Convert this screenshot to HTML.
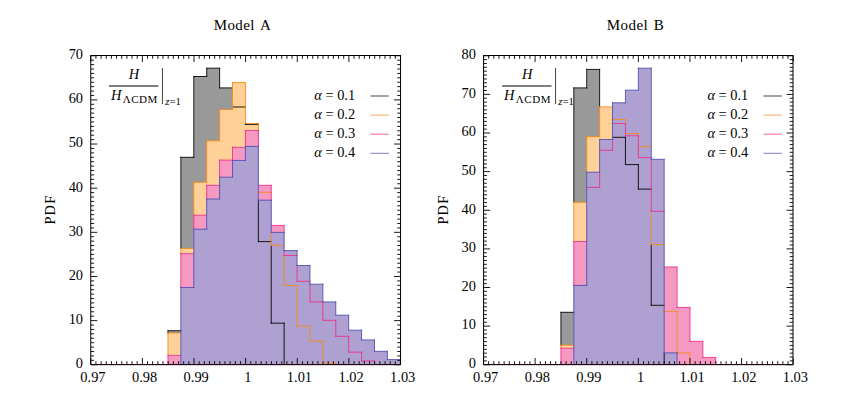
<!DOCTYPE html>
<html><head><meta charset="utf-8"><title>PDF histograms: Model A / Model B</title>
<style>html,body{margin:0;padding:0;background:#fff}svg{display:block}text{font-family:"Liberation Serif",serif;fill:#000}</style></head><body>
<svg width="844" height="398" viewBox="0 0 844 398">
<rect width="844" height="398" fill="#fff"/>
<g id="panelA">
<path d="M167.99 364.5V330.7H180.89V157.3H193.8V76.5H206.71V68.2H219.61V87.9H232.52V107H245.43V124.4H258.33V241.6H271.24V323.2H284.14V364.5Z" fill="#999999"/>
<path d="M180.89 364.5V330.7M193.8 364.5V157.3M206.71 364.5V76.5M219.61 364.5V87.9M232.52 364.5V107M245.43 364.5V124.4M258.33 364.5V241.6M271.24 364.5V323.2" fill="none" stroke="#fff" stroke-opacity="0.035" stroke-width="1"/>
<path d="M167.99 364.5V333H180.89V248.4H193.8V182.2H206.71V140.75H219.61V109.5H232.52V82.6H245.43V123.5H258.33V192.3H271.24V245.3H284.14V285.4H297.05V326.2H309.96V341.1H322.86V363.1H335.77V364.5Z" fill="#FFD199"/>
<path d="M180.89 364.5V333M193.8 364.5V248.4M206.71 364.5V182.2M219.61 364.5V140.75M232.52 364.5V109.5M245.43 364.5V123.5M258.33 364.5V192.3M271.24 364.5V245.3M284.14 364.5V285.4M297.05 364.5V326.2M309.96 364.5V341.1" fill="none" stroke="#fff" stroke-opacity="0.035" stroke-width="1"/>
<path d="M167.99 364.5V355.4H180.89V253.7H193.8V215.2H206.71V185.3H219.61V160.1H232.52V147.3H245.43V130.5H258.33V185.3H271.24V225.4H284.14V255.5H297.05V281.3H309.96V301.9H322.86V320.3H335.77V336.3H348.68V352.2H361.58V361H374.49V364.5Z" fill="#F599C3"/>
<path d="M180.89 364.5V355.4M193.8 364.5V253.7M206.71 364.5V215.2M219.61 364.5V185.3M232.52 364.5V160.1M245.43 364.5V147.3M258.33 364.5V185.3M271.24 364.5V225.4M284.14 364.5V255.5M297.05 364.5V281.3M309.96 364.5V301.9M322.86 364.5V320.3M335.77 364.5V336.3M348.68 364.5V352.2M361.58 364.5V361" fill="none" stroke="#fff" stroke-opacity="0.035" stroke-width="1"/>
<path d="M167.99 364.5V364.5H180.89V287.5H193.8V229.2H206.71V199H219.61V177.2H232.52V160.45H245.43V146.4H258.33V200.2H271.24V232.4H284.14V250.6H297.05V265.5H309.96V284.2H322.86V301.9H335.77V315.2H348.68V330.2H361.58V339.9H374.49V351.3H387.39V359.6H400.3V364.5Z" fill="#AEA1D1"/>
<path d="M193.8 364.5V287.5M206.71 364.5V229.2M219.61 364.5V199M232.52 364.5V177.2M245.43 364.5V160.45M258.33 364.5V200.2M271.24 364.5V232.4M284.14 364.5V250.6M297.05 364.5V265.5M309.96 364.5V284.2M322.86 364.5V301.9M335.77 364.5V315.2M348.68 364.5V330.2M361.58 364.5V339.9M374.49 364.5V351.3M387.39 364.5V359.6" fill="none" stroke="#fff" stroke-opacity="0.035" stroke-width="1"/>
<path d="M167.99 330.7V333M167.99 330.7H180.89M180.89 157.3V248.4M180.89 157.3H193.8M193.8 76.5V157.3M193.8 76.5H206.71M206.71 68.2V76.5M206.71 68.2H219.61M219.61 68.2V87.9M219.61 87.9H232.52M232.52 107H245.43M245.43 123.5V124.4M245.43 124.4H258.33M258.33 200.2V241.6M258.33 241.6H271.24M271.24 245.3V323.2M271.24 323.2H284.14M284.14 323.2V364.5" fill="none" stroke="#000000" stroke-width="0.88" stroke-linecap="square"/>
<path d="M167.99 333V355.4M167.99 333H180.89M180.89 248.4V253.7M180.89 248.4H193.8M193.8 182.2V215.2M193.8 182.2H206.71M206.71 140.75V182.2M206.71 140.75H219.61M219.61 109.5V140.75M219.61 109.5H232.52M232.52 82.6V109.5M232.52 82.6H245.43M245.43 82.6V123.5M245.43 123.5H258.33M258.33 123.5V130.5M258.33 192.3H271.24M271.24 232.4V245.3M271.24 245.3H284.14M284.14 255.5V285.4M284.14 285.4H297.05M297.05 285.4V326.2M297.05 326.2H309.96M309.96 326.2V341.1M309.96 341.1H322.86M322.86 341.1V363.1M322.86 363.1H335.77M335.77 363.1V364.5" fill="none" stroke="#F58A14" stroke-width="0.88" stroke-linecap="square"/>
<path d="M167.99 355.4V364.5M167.99 355.4H180.89M180.89 253.7V287.5M180.89 253.7H193.8M193.8 215.2V229.2M193.8 215.2H206.71M206.71 185.3V199M206.71 185.3H219.61M219.61 160.1V177.2M219.61 160.1H232.52M232.52 147.3V160.1M232.52 147.3H245.43M245.43 130.5V146.4M245.43 130.5H258.33M258.33 130.5V146.4M258.33 185.3H271.24M271.24 185.3V200.2M271.24 225.4H284.14M284.14 225.4V232.4M284.14 250.6V255.5M284.14 255.5H297.05M297.05 265.5V281.3M297.05 281.3H309.96M309.96 284.2V301.9M309.96 301.9H322.86M322.86 301.9V320.3M322.86 320.3H335.77M335.77 320.3V336.3M335.77 336.3H348.68M348.68 336.3V352.2M348.68 352.2H361.58M361.58 352.2V361M361.58 361H374.49M374.49 361V364.5" fill="none" stroke="#EC3088" stroke-width="0.88" stroke-linecap="square"/>
<path d="M180.89 287.5V364.5M180.89 287.5H193.8M193.8 229.2V287.5M193.8 229.2H206.71M206.71 199V229.2M206.71 199H219.61M219.61 177.2V199M219.61 177.2H232.52M232.52 160.45V177.2M232.52 160.45H245.43M245.43 146.4V160.45M245.43 146.4H258.33M258.33 146.4V200.2M258.33 200.2H271.24M271.24 200.2V232.4M271.24 232.4H284.14M284.14 232.4V250.6M284.14 250.6H297.05M297.05 250.6V265.5M297.05 265.5H309.96M309.96 265.5V284.2M309.96 284.2H322.86M322.86 284.2V301.9M322.86 301.9H335.77M335.77 301.9V315.2M335.77 315.2H348.68M348.68 315.2V330.2M348.68 330.2H361.58M361.58 330.2V339.9M361.58 339.9H374.49M374.49 339.9V351.3M374.49 351.3H387.39M387.39 351.3V359.6M387.39 359.6H400.3M400.3 359.6V364.5" fill="none" stroke="#4E4EB0" stroke-width="0.88" stroke-linecap="square"/>
<path d="M90.75 364.5v-6.5M90.75 55.5v6.5M95.91 364.5v-3.3M95.91 55.5v3.3M101.08 364.5v-3.3M101.08 55.5v3.3M106.24 364.5v-3.3M106.24 55.5v3.3M111.4 364.5v-3.3M111.4 55.5v3.3M116.56 364.5v-3.3M116.56 55.5v3.3M121.73 364.5v-3.3M121.73 55.5v3.3M126.89 364.5v-3.3M126.89 55.5v3.3M132.05 364.5v-3.3M132.05 55.5v3.3M137.21 364.5v-3.3M137.21 55.5v3.3M142.38 364.5v-6.5M142.38 55.5v6.5M147.54 364.5v-3.3M147.54 55.5v3.3M152.7 364.5v-3.3M152.7 55.5v3.3M157.86 364.5v-3.3M157.86 55.5v3.3M163.03 364.5v-3.3M163.03 55.5v3.3M168.19 364.5v-3.3M168.19 55.5v3.3M173.35 364.5v-3.3M173.35 55.5v3.3M178.51 364.5v-3.3M178.51 55.5v3.3M183.68 364.5v-3.3M183.68 55.5v3.3M188.84 364.5v-3.3M188.84 55.5v3.3M194 364.5v-6.5M194 55.5v6.5M199.16 364.5v-3.3M199.16 55.5v3.3M204.33 364.5v-3.3M204.33 55.5v3.3M209.49 364.5v-3.3M209.49 55.5v3.3M214.65 364.5v-3.3M214.65 55.5v3.3M219.81 364.5v-3.3M219.81 55.5v3.3M224.98 364.5v-3.3M224.98 55.5v3.3M230.14 364.5v-3.3M230.14 55.5v3.3M235.3 364.5v-3.3M235.3 55.5v3.3M240.46 364.5v-3.3M240.46 55.5v3.3M245.63 364.5v-6.5M245.63 55.5v6.5M250.79 364.5v-3.3M250.79 55.5v3.3M255.95 364.5v-3.3M255.95 55.5v3.3M261.11 364.5v-3.3M261.11 55.5v3.3M266.28 364.5v-3.3M266.28 55.5v3.3M271.44 364.5v-3.3M271.44 55.5v3.3M276.6 364.5v-3.3M276.6 55.5v3.3M281.76 364.5v-3.3M281.76 55.5v3.3M286.93 364.5v-3.3M286.93 55.5v3.3M292.09 364.5v-3.3M292.09 55.5v3.3M297.25 364.5v-6.5M297.25 55.5v6.5M302.41 364.5v-3.3M302.41 55.5v3.3M307.58 364.5v-3.3M307.58 55.5v3.3M312.74 364.5v-3.3M312.74 55.5v3.3M317.9 364.5v-3.3M317.9 55.5v3.3M323.06 364.5v-3.3M323.06 55.5v3.3M328.23 364.5v-3.3M328.23 55.5v3.3M333.39 364.5v-3.3M333.39 55.5v3.3M338.55 364.5v-3.3M338.55 55.5v3.3M343.71 364.5v-3.3M343.71 55.5v3.3M348.88 364.5v-6.5M348.88 55.5v6.5M354.04 364.5v-3.3M354.04 55.5v3.3M359.2 364.5v-3.3M359.2 55.5v3.3M364.36 364.5v-3.3M364.36 55.5v3.3M369.53 364.5v-3.3M369.53 55.5v3.3M374.69 364.5v-3.3M374.69 55.5v3.3M379.85 364.5v-3.3M379.85 55.5v3.3M385.01 364.5v-3.3M385.01 55.5v3.3M390.18 364.5v-3.3M390.18 55.5v3.3M395.34 364.5v-3.3M395.34 55.5v3.3M400.5 364.5v-6.5M400.5 55.5v6.5M90.75 364.75h6.5M400.55 364.75h-6.5M90.75 360.34h3.3M400.55 360.34h-3.3M90.75 355.92h3.3M400.55 355.92h-3.3M90.75 351.51h3.3M400.55 351.51h-3.3M90.75 347.09h3.3M400.55 347.09h-3.3M90.75 342.68h3.3M400.55 342.68h-3.3M90.75 338.26h3.3M400.55 338.26h-3.3M90.75 333.85h3.3M400.55 333.85h-3.3M90.75 329.44h3.3M400.55 329.44h-3.3M90.75 325.02h3.3M400.55 325.02h-3.3M90.75 320.61h6.5M400.55 320.61h-6.5M90.75 316.19h3.3M400.55 316.19h-3.3M90.75 311.78h3.3M400.55 311.78h-3.3M90.75 307.36h3.3M400.55 307.36h-3.3M90.75 302.95h3.3M400.55 302.95h-3.3M90.75 298.54h3.3M400.55 298.54h-3.3M90.75 294.12h3.3M400.55 294.12h-3.3M90.75 289.71h3.3M400.55 289.71h-3.3M90.75 285.29h3.3M400.55 285.29h-3.3M90.75 280.88h3.3M400.55 280.88h-3.3M90.75 276.46h6.5M400.55 276.46h-6.5M90.75 272.05h3.3M400.55 272.05h-3.3M90.75 267.64h3.3M400.55 267.64h-3.3M90.75 263.22h3.3M400.55 263.22h-3.3M90.75 258.81h3.3M400.55 258.81h-3.3M90.75 254.39h3.3M400.55 254.39h-3.3M90.75 249.98h3.3M400.55 249.98h-3.3M90.75 245.56h3.3M400.55 245.56h-3.3M90.75 241.15h3.3M400.55 241.15h-3.3M90.75 236.74h3.3M400.55 236.74h-3.3M90.75 232.32h6.5M400.55 232.32h-6.5M90.75 227.91h3.3M400.55 227.91h-3.3M90.75 223.49h3.3M400.55 223.49h-3.3M90.75 219.08h3.3M400.55 219.08h-3.3M90.75 214.66h3.3M400.55 214.66h-3.3M90.75 210.25h3.3M400.55 210.25h-3.3M90.75 205.84h3.3M400.55 205.84h-3.3M90.75 201.42h3.3M400.55 201.42h-3.3M90.75 197.01h3.3M400.55 197.01h-3.3M90.75 192.59h3.3M400.55 192.59h-3.3M90.75 188.18h6.5M400.55 188.18h-6.5M90.75 183.76h3.3M400.55 183.76h-3.3M90.75 179.35h3.3M400.55 179.35h-3.3M90.75 174.94h3.3M400.55 174.94h-3.3M90.75 170.52h3.3M400.55 170.52h-3.3M90.75 166.11h3.3M400.55 166.11h-3.3M90.75 161.69h3.3M400.55 161.69h-3.3M90.75 157.28h3.3M400.55 157.28h-3.3M90.75 152.86h3.3M400.55 152.86h-3.3M90.75 148.45h3.3M400.55 148.45h-3.3M90.75 144.04h6.5M400.55 144.04h-6.5M90.75 139.62h3.3M400.55 139.62h-3.3M90.75 135.21h3.3M400.55 135.21h-3.3M90.75 130.79h3.3M400.55 130.79h-3.3M90.75 126.38h3.3M400.55 126.38h-3.3M90.75 121.96h3.3M400.55 121.96h-3.3M90.75 117.55h3.3M400.55 117.55h-3.3M90.75 113.14h3.3M400.55 113.14h-3.3M90.75 108.72h3.3M400.55 108.72h-3.3M90.75 104.31h3.3M400.55 104.31h-3.3M90.75 99.89h6.5M400.55 99.89h-6.5M90.75 95.48h3.3M400.55 95.48h-3.3M90.75 91.06h3.3M400.55 91.06h-3.3M90.75 86.65h3.3M400.55 86.65h-3.3M90.75 82.24h3.3M400.55 82.24h-3.3M90.75 77.82h3.3M400.55 77.82h-3.3M90.75 73.41h3.3M400.55 73.41h-3.3M90.75 68.99h3.3M400.55 68.99h-3.3M90.75 64.58h3.3M400.55 64.58h-3.3M90.75 60.16h3.3M400.55 60.16h-3.3M90.75 55.75h6.5M400.55 55.75h-6.5" fill="none" stroke="#000" stroke-width="0.9"/>
<rect x="90.75" y="55.5" width="309.8" height="309" fill="none" stroke="#000" stroke-width="1"/>
<path d="M90.75 365.05H400.55" stroke="#7a3a60" stroke-opacity="0.45" stroke-width="1"/>
<g fill="#000">
<path d="M109 86H158.4" stroke="#000" stroke-width="1.1"/>
<path d="M162.45 68V104.1" stroke="#222" stroke-width="0.85"/>
<path d="M370.4 96H388.8" stroke="#000000" stroke-width="1.05" stroke-opacity="0.7"/>
<path d="M370.4 115.1H388.8" stroke="#F58A14" stroke-width="1.05" stroke-opacity="0.7"/>
<path d="M370.4 134.2H388.8" stroke="#EC3088" stroke-width="1.05" stroke-opacity="0.7"/>
<path d="M370.4 153.3H388.8" stroke="#4E4EB0" stroke-width="1.05" stroke-opacity="0.7"/>
</g>
</g>
<g id="panelB">
<path d="M560.93 364.5V312.3H573.83V87.9H586.73V69.4H599.64V106.9H612.54V137.3H625.45V164.6H638.35V189.1H651.25V305.3H664.16V364.5Z" fill="#999999"/>
<path d="M573.83 364.5V312.3M586.73 364.5V87.9M599.64 364.5V106.9M612.54 364.5V137.3M625.45 364.5V164.6M638.35 364.5V189.1M651.25 364.5V305.3" fill="none" stroke="#fff" stroke-opacity="0.035" stroke-width="1"/>
<path d="M560.93 364.5V345.2H573.83V202.3H586.73V136.7H599.64V106.9H612.54V119.4H625.45V133.5H638.35V146.7H651.25V244.5H664.16V311.3H677.06V352.9H689.97V364.5Z" fill="#FFD199"/>
<path d="M573.83 364.5V345.2M586.73 364.5V202.3M599.64 364.5V136.7M612.54 364.5V119.4M625.45 364.5V133.5M638.35 364.5V146.7M651.25 364.5V244.5M664.16 364.5V311.3M677.06 364.5V352.9" fill="none" stroke="#fff" stroke-opacity="0.035" stroke-width="1"/>
<path d="M560.93 364.5V348.2H573.83V241.6H586.73V187.4H599.64V150.3H612.54V123.5H625.45V135.75H638.35V157.6H651.25V211.3H664.16V267H677.06V307.4H689.97V341.3H702.87V357.4H715.78V364.5Z" fill="#F599C3"/>
<path d="M573.83 364.5V348.2M586.73 364.5V241.6M599.64 364.5V187.4M612.54 364.5V150.3M625.45 364.5V135.75M638.35 364.5V157.6M651.25 364.5V211.3M664.16 364.5V267M677.06 364.5V307.4M689.97 364.5V341.3M702.87 364.5V357.4" fill="none" stroke="#fff" stroke-opacity="0.035" stroke-width="1"/>
<path d="M560.93 364.5V364.5H573.83V285.45H586.73V172.2H599.64V139.5H612.54V102.8H625.45V90.2H638.35V68.2H651.25V159.3H664.16V352.9H677.06V364.5Z" fill="#AEA1D1"/>
<path d="M586.73 364.5V285.45M599.64 364.5V172.2M612.54 364.5V139.5M625.45 364.5V102.8M638.35 364.5V90.2M651.25 364.5V159.3M664.16 364.5V352.9" fill="none" stroke="#fff" stroke-opacity="0.035" stroke-width="1"/>
<path d="M560.93 312.3V345.2M560.93 312.3H573.83M573.83 87.9V202.3M573.83 87.9H586.73M586.73 69.4V87.9M586.73 69.4H599.64M599.64 69.4V106.9M612.54 137.3H625.45M625.45 137.3V164.6M625.45 164.6H638.35M638.35 164.6V189.1M638.35 189.1H651.25M651.25 244.5V305.3M651.25 305.3H664.16M664.16 352.9V364.5" fill="none" stroke="#000000" stroke-width="0.88" stroke-linecap="square"/>
<path d="M560.93 345.2V348.2M560.93 345.2H573.83M573.83 202.3V241.6M573.83 202.3H586.73M586.73 136.7V172.2M586.73 136.7H599.64M599.64 106.9V136.7M599.64 106.9H612.54M612.54 119.4H625.45M625.45 119.4V123.5M625.45 133.5H638.35M638.35 133.5V135.75M638.35 146.7H651.25M651.25 211.3V244.5M651.25 244.5H664.16M664.16 311.3H677.06M677.06 311.3V352.9M677.06 352.9H689.97M689.97 352.9V364.5" fill="none" stroke="#F58A14" stroke-width="0.88" stroke-linecap="square"/>
<path d="M560.93 348.2V364.5M560.93 348.2H573.83M573.83 241.6V285.45M573.83 241.6H586.73M586.73 187.4H599.64M599.64 172.2V187.4M599.64 150.3H612.54M612.54 139.5V150.3M612.54 123.5H625.45M625.45 123.5V135.75M625.45 135.75H638.35M638.35 135.75V157.6M638.35 157.6H651.25M651.25 159.3V211.3M651.25 211.3H664.16M664.16 267H677.06M677.06 267V307.4M677.06 307.4H689.97M689.97 307.4V341.3M689.97 341.3H702.87M702.87 341.3V357.4M702.87 357.4H715.78M715.78 357.4V364.5" fill="none" stroke="#EC3088" stroke-width="0.88" stroke-linecap="square"/>
<path d="M573.83 285.45V364.5M573.83 285.45H586.73M586.73 172.2V285.45M586.73 172.2H599.64M599.64 139.5V172.2M599.64 139.5H612.54M612.54 102.8V139.5M612.54 102.8H625.45M625.45 90.2V102.8M625.45 90.2H638.35M638.35 68.2V90.2M638.35 68.2H651.25M651.25 68.2V159.3M651.25 159.3H664.16M664.16 159.3V352.9M664.16 352.9H677.06M677.06 352.9V364.5" fill="none" stroke="#4E4EB0" stroke-width="0.88" stroke-linecap="square"/>
<path d="M483.5 364.5v-6.5M483.5 55.5v6.5M488.66 364.5v-3.3M488.66 55.5v3.3M493.82 364.5v-3.3M493.82 55.5v3.3M498.99 364.5v-3.3M498.99 55.5v3.3M504.15 364.5v-3.3M504.15 55.5v3.3M509.31 364.5v-3.3M509.31 55.5v3.3M514.47 364.5v-3.3M514.47 55.5v3.3M519.63 364.5v-3.3M519.63 55.5v3.3M524.79 364.5v-3.3M524.79 55.5v3.3M529.96 364.5v-3.3M529.96 55.5v3.3M535.12 364.5v-6.5M535.12 55.5v6.5M540.28 364.5v-3.3M540.28 55.5v3.3M545.44 364.5v-3.3M545.44 55.5v3.3M550.6 364.5v-3.3M550.6 55.5v3.3M555.76 364.5v-3.3M555.76 55.5v3.3M560.93 364.5v-3.3M560.93 55.5v3.3M566.09 364.5v-3.3M566.09 55.5v3.3M571.25 364.5v-3.3M571.25 55.5v3.3M576.41 364.5v-3.3M576.41 55.5v3.3M581.57 364.5v-3.3M581.57 55.5v3.3M586.73 364.5v-6.5M586.73 55.5v6.5M591.9 364.5v-3.3M591.9 55.5v3.3M597.06 364.5v-3.3M597.06 55.5v3.3M602.22 364.5v-3.3M602.22 55.5v3.3M607.38 364.5v-3.3M607.38 55.5v3.3M612.54 364.5v-3.3M612.54 55.5v3.3M617.7 364.5v-3.3M617.7 55.5v3.3M622.87 364.5v-3.3M622.87 55.5v3.3M628.03 364.5v-3.3M628.03 55.5v3.3M633.19 364.5v-3.3M633.19 55.5v3.3M638.35 364.5v-6.5M638.35 55.5v6.5M643.51 364.5v-3.3M643.51 55.5v3.3M648.67 364.5v-3.3M648.67 55.5v3.3M653.83 364.5v-3.3M653.83 55.5v3.3M659 364.5v-3.3M659 55.5v3.3M664.16 364.5v-3.3M664.16 55.5v3.3M669.32 364.5v-3.3M669.32 55.5v3.3M674.48 364.5v-3.3M674.48 55.5v3.3M679.64 364.5v-3.3M679.64 55.5v3.3M684.8 364.5v-3.3M684.8 55.5v3.3M689.97 364.5v-6.5M689.97 55.5v6.5M695.13 364.5v-3.3M695.13 55.5v3.3M700.29 364.5v-3.3M700.29 55.5v3.3M705.45 364.5v-3.3M705.45 55.5v3.3M710.61 364.5v-3.3M710.61 55.5v3.3M715.77 364.5v-3.3M715.77 55.5v3.3M720.94 364.5v-3.3M720.94 55.5v3.3M726.1 364.5v-3.3M726.1 55.5v3.3M731.26 364.5v-3.3M731.26 55.5v3.3M736.42 364.5v-3.3M736.42 55.5v3.3M741.58 364.5v-6.5M741.58 55.5v6.5M746.74 364.5v-3.3M746.74 55.5v3.3M751.91 364.5v-3.3M751.91 55.5v3.3M757.07 364.5v-3.3M757.07 55.5v3.3M762.23 364.5v-3.3M762.23 55.5v3.3M767.39 364.5v-3.3M767.39 55.5v3.3M772.55 364.5v-3.3M772.55 55.5v3.3M777.71 364.5v-3.3M777.71 55.5v3.3M782.88 364.5v-3.3M782.88 55.5v3.3M788.04 364.5v-3.3M788.04 55.5v3.3M793.2 364.5v-6.5M793.2 55.5v6.5M483.6 364.75h6.5M793 364.75h-6.5M483.6 360.89h3.3M793 360.89h-3.3M483.6 357.02h3.3M793 357.02h-3.3M483.6 353.16h3.3M793 353.16h-3.3M483.6 349.3h3.3M793 349.3h-3.3M483.6 345.44h3.3M793 345.44h-3.3M483.6 341.57h3.3M793 341.57h-3.3M483.6 337.71h3.3M793 337.71h-3.3M483.6 333.85h3.3M793 333.85h-3.3M483.6 329.99h3.3M793 329.99h-3.3M483.6 326.12h6.5M793 326.12h-6.5M483.6 322.26h3.3M793 322.26h-3.3M483.6 318.4h3.3M793 318.4h-3.3M483.6 314.54h3.3M793 314.54h-3.3M483.6 310.68h3.3M793 310.68h-3.3M483.6 306.81h3.3M793 306.81h-3.3M483.6 302.95h3.3M793 302.95h-3.3M483.6 299.09h3.3M793 299.09h-3.3M483.6 295.23h3.3M793 295.23h-3.3M483.6 291.36h3.3M793 291.36h-3.3M483.6 287.5h6.5M793 287.5h-6.5M483.6 283.64h3.3M793 283.64h-3.3M483.6 279.77h3.3M793 279.77h-3.3M483.6 275.91h3.3M793 275.91h-3.3M483.6 272.05h3.3M793 272.05h-3.3M483.6 268.19h3.3M793 268.19h-3.3M483.6 264.32h3.3M793 264.32h-3.3M483.6 260.46h3.3M793 260.46h-3.3M483.6 256.6h3.3M793 256.6h-3.3M483.6 252.74h3.3M793 252.74h-3.3M483.6 248.88h6.5M793 248.88h-6.5M483.6 245.01h3.3M793 245.01h-3.3M483.6 241.15h3.3M793 241.15h-3.3M483.6 237.29h3.3M793 237.29h-3.3M483.6 233.43h3.3M793 233.43h-3.3M483.6 229.56h3.3M793 229.56h-3.3M483.6 225.7h3.3M793 225.7h-3.3M483.6 221.84h3.3M793 221.84h-3.3M483.6 217.97h3.3M793 217.97h-3.3M483.6 214.11h3.3M793 214.11h-3.3M483.6 210.25h6.5M793 210.25h-6.5M483.6 206.39h3.3M793 206.39h-3.3M483.6 202.53h3.3M793 202.53h-3.3M483.6 198.66h3.3M793 198.66h-3.3M483.6 194.8h3.3M793 194.8h-3.3M483.6 190.94h3.3M793 190.94h-3.3M483.6 187.08h3.3M793 187.08h-3.3M483.6 183.21h3.3M793 183.21h-3.3M483.6 179.35h3.3M793 179.35h-3.3M483.6 175.49h3.3M793 175.49h-3.3M483.6 171.62h6.5M793 171.62h-6.5M483.6 167.76h3.3M793 167.76h-3.3M483.6 163.9h3.3M793 163.9h-3.3M483.6 160.04h3.3M793 160.04h-3.3M483.6 156.18h3.3M793 156.18h-3.3M483.6 152.31h3.3M793 152.31h-3.3M483.6 148.45h3.3M793 148.45h-3.3M483.6 144.59h3.3M793 144.59h-3.3M483.6 140.73h3.3M793 140.73h-3.3M483.6 136.86h3.3M793 136.86h-3.3M483.6 133h6.5M793 133h-6.5M483.6 129.14h3.3M793 129.14h-3.3M483.6 125.28h3.3M793 125.28h-3.3M483.6 121.41h3.3M793 121.41h-3.3M483.6 117.55h3.3M793 117.55h-3.3M483.6 113.69h3.3M793 113.69h-3.3M483.6 109.83h3.3M793 109.83h-3.3M483.6 105.96h3.3M793 105.96h-3.3M483.6 102.1h3.3M793 102.1h-3.3M483.6 98.24h3.3M793 98.24h-3.3M483.6 94.38h6.5M793 94.38h-6.5M483.6 90.51h3.3M793 90.51h-3.3M483.6 86.65h3.3M793 86.65h-3.3M483.6 82.79h3.3M793 82.79h-3.3M483.6 78.93h3.3M793 78.93h-3.3M483.6 75.06h3.3M793 75.06h-3.3M483.6 71.2h3.3M793 71.2h-3.3M483.6 67.34h3.3M793 67.34h-3.3M483.6 63.48h3.3M793 63.48h-3.3M483.6 59.61h3.3M793 59.61h-3.3M483.6 55.75h6.5M793 55.75h-6.5" fill="none" stroke="#000" stroke-width="0.9"/>
<rect x="483.6" y="55.5" width="309.4" height="309" fill="none" stroke="#000" stroke-width="1"/>
<path d="M483.6 365.05H793" stroke="#7a3a60" stroke-opacity="0.45" stroke-width="1"/>
<g fill="#000">
<path d="M502.1 86H551.5" stroke="#000" stroke-width="1.1"/>
<path d="M555.55 68V104.1" stroke="#222" stroke-width="0.85"/>
<path d="M763.5 96H781.9" stroke="#000000" stroke-width="1.05" stroke-opacity="0.7"/>
<path d="M763.5 115.1H781.9" stroke="#F58A14" stroke-width="1.05" stroke-opacity="0.7"/>
<path d="M763.5 134.2H781.9" stroke="#EC3088" stroke-width="1.05" stroke-opacity="0.7"/>
<path d="M763.5 153.3H781.9" stroke="#4E4EB0" stroke-width="1.05" stroke-opacity="0.7"/>
</g>
</g>
<g>
<text x="83.05" y="368.1" font-size="14.4" text-anchor="end">0</text>
<text x="83.05" y="323.96" font-size="14.4" text-anchor="end">10</text>
<text x="83.05" y="279.81" font-size="14.4" text-anchor="end">20</text>
<text x="83.05" y="235.67" font-size="14.4" text-anchor="end">30</text>
<text x="83.05" y="191.53" font-size="14.4" text-anchor="end">40</text>
<text x="83.05" y="147.39" font-size="14.4" text-anchor="end">50</text>
<text x="83.05" y="103.24" font-size="14.4" text-anchor="end">60</text>
<text x="83.05" y="59.1" font-size="14.4" text-anchor="end">70</text>
<text x="92.95" y="381.7" font-size="14.4" text-anchor="middle">0.97</text>
<text x="144.58" y="381.7" font-size="14.4" text-anchor="middle">0.98</text>
<text x="196.2" y="381.7" font-size="14.4" text-anchor="middle">0.99</text>
<text x="247.83" y="381.7" font-size="14.4" text-anchor="middle">1</text>
<text x="299.45" y="381.7" font-size="14.4" text-anchor="middle">1.01</text>
<text x="351.08" y="381.7" font-size="14.4" text-anchor="middle">1.02</text>
<text x="402.7" y="381.7" font-size="14.4" text-anchor="middle">1.03</text>
<text x="213.7" y="29.6" font-size="15" letter-spacing="0.42" word-spacing="1.6">Model A</text>
<text transform="translate(54.6 224.6) rotate(-90)" font-size="14.4" letter-spacing="1.2">PDF</text>
<text x="128.8" y="79.4" font-size="14.4" font-style="italic">H</text>
<text x="110.9" y="99.5" font-size="14.4" font-style="italic">H</text>
<text x="122.7" y="102.6" font-size="11" letter-spacing="0.55">ΛCDM</text>
<text x="165.2" y="104.6" font-size="10.8"><tspan font-style="italic">z</tspan>=1</text>
<text x="314.3" y="99.8" font-size="14.4"><tspan font-style="italic">α</tspan> = 0.1</text>
<text x="314.3" y="118.93" font-size="14.4"><tspan font-style="italic">α</tspan> = 0.2</text>
<text x="314.3" y="138.06" font-size="14.4"><tspan font-style="italic">α</tspan> = 0.3</text>
<text x="314.3" y="157.19" font-size="14.4"><tspan font-style="italic">α</tspan> = 0.4</text>
<text x="475.9" y="368.1" font-size="14.4" text-anchor="end">0</text>
<text x="475.9" y="329.48" font-size="14.4" text-anchor="end">10</text>
<text x="475.9" y="290.85" font-size="14.4" text-anchor="end">20</text>
<text x="475.9" y="252.22" font-size="14.4" text-anchor="end">30</text>
<text x="475.9" y="213.6" font-size="14.4" text-anchor="end">40</text>
<text x="475.9" y="174.97" font-size="14.4" text-anchor="end">50</text>
<text x="475.9" y="136.35" font-size="14.4" text-anchor="end">60</text>
<text x="475.9" y="97.72" font-size="14.4" text-anchor="end">70</text>
<text x="475.9" y="59.1" font-size="14.4" text-anchor="end">80</text>
<text x="485.7" y="381.7" font-size="14.4" text-anchor="middle">0.97</text>
<text x="537.32" y="381.7" font-size="14.4" text-anchor="middle">0.98</text>
<text x="588.93" y="381.7" font-size="14.4" text-anchor="middle">0.99</text>
<text x="640.55" y="381.7" font-size="14.4" text-anchor="middle">1</text>
<text x="692.17" y="381.7" font-size="14.4" text-anchor="middle">1.01</text>
<text x="743.78" y="381.7" font-size="14.4" text-anchor="middle">1.02</text>
<text x="795.4" y="381.7" font-size="14.4" text-anchor="middle">1.03</text>
<text x="606.8" y="29.6" font-size="15" letter-spacing="0.42" word-spacing="1.6">Model B</text>
<text transform="translate(447.7 224.6) rotate(-90)" font-size="14.4" letter-spacing="1.2">PDF</text>
<text x="521.9" y="79.4" font-size="14.4" font-style="italic">H</text>
<text x="504" y="99.5" font-size="14.4" font-style="italic">H</text>
<text x="515.8" y="102.6" font-size="11" letter-spacing="0.55">ΛCDM</text>
<text x="558.3" y="104.6" font-size="10.8"><tspan font-style="italic">z</tspan>=1</text>
<text x="707.4" y="99.8" font-size="14.4"><tspan font-style="italic">α</tspan> = 0.1</text>
<text x="707.4" y="118.93" font-size="14.4"><tspan font-style="italic">α</tspan> = 0.2</text>
<text x="707.4" y="138.06" font-size="14.4"><tspan font-style="italic">α</tspan> = 0.3</text>
<text x="707.4" y="157.19" font-size="14.4"><tspan font-style="italic">α</tspan> = 0.4</text>
</g>
</svg></body></html>
